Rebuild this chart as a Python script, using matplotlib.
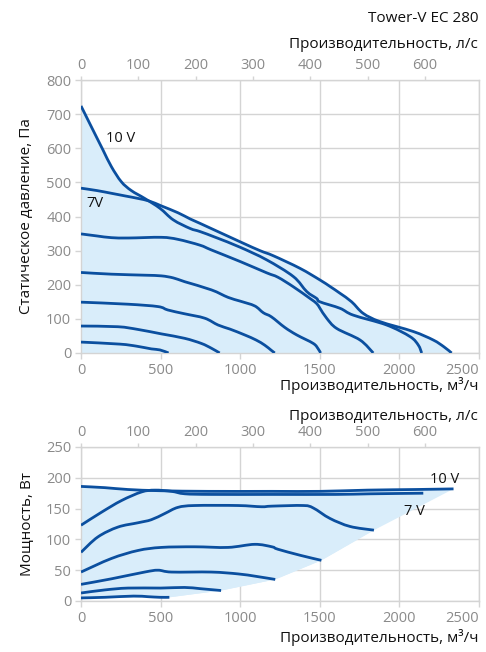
import matplotlib
matplotlib.use("Agg")
import matplotlib.pyplot as plt
from matplotlib.path import Path
from matplotlib.patches import PathPatch
import numpy as np

# ---------------- data: static pressure (Pa) vs airflow (m3/h) ----------------
p_a_x = [0, 65, 138, 191, 253, 316, 400, 496, 580, 685, 747, 850, 999, 1166, 1334, 1418, 1480, 1501, 1627, 1710, 1920, 2067, 2119, 2140]
p_a_y = [724, 663, 595, 546, 502, 476, 453, 424, 390, 365, 356, 338, 310, 273, 224, 180, 160, 150, 131, 111, 82, 48, 23, 0]
p_b_x = [0, 100, 191, 280, 358, 430, 505, 609, 685, 747, 999, 1124, 1208, 1376, 1501, 1564, 1627, 1700, 1773, 1878, 2087, 2213, 2280, 2328]
p_b_y = [483, 476, 468, 460, 453, 445, 431, 411, 393, 380, 326, 300, 285, 248, 214, 195, 175, 150, 116, 92, 63, 38, 18, 0]
p_c_x = [0, 100, 191, 300, 505, 609, 747, 819, 1000, 1166, 1237, 1334, 1438, 1480, 1501, 1543, 1606, 1753, 1836]
p_c_y = [349, 343, 338, 337, 339, 333, 316, 302, 268, 235, 222, 194, 160, 145, 131, 102, 72, 38, 0]
p_d_x = [0, 191, 400, 505, 580, 651, 819, 924, 1000, 1091, 1145, 1196, 1280, 1355, 1459, 1490, 1505]
p_d_y = [236, 231, 228, 226, 220, 209, 185, 163, 152, 138, 118, 106, 75, 53, 28, 12, 0]
p_e_x = [0, 295, 484, 546, 650, 777, 861, 936, 1028, 1100, 1154, 1195, 1217]
p_e_y = [149, 143, 136, 126, 115, 102, 82, 70, 53, 38, 23, 8, 0]
p_f_x = [0, 232, 358, 505, 651, 756, 819, 871]
p_f_y = [79, 77, 69, 56, 43, 28, 14, 0]
p_g_x = [0, 245, 349, 442, 496, 550]
p_g_y = [32, 26, 20, 12, 9, 0]

# ---------------- data: power (W) vs airflow (m3/h) ----------------
w_10_x = [0, 150, 295, 500, 800, 1200, 1500, 1800, 2100, 2340]
w_10_y = [186, 184, 181, 179, 178, 178, 178, 180, 181, 182]
w_7_x = [0, 128, 254, 380, 464, 569, 653, 820, 1200, 1600, 1815, 2150]
w_7_y = [123, 144, 163, 177, 180, 178, 174, 173, 173, 173, 174, 175]
w_3_x = [0, 106, 232, 358, 442, 526, 609, 714, 986, 1133, 1199, 1397, 1459, 1564, 1690, 1840]
w_3_y = [79, 104, 120, 127, 132, 142, 152, 155, 155, 153, 154, 155, 151, 134, 121, 115]
w_4_x = [0, 191, 358, 505, 714, 924, 1091, 1199, 1237, 1380, 1510]
w_4_y = [47, 69, 82, 87, 88, 87, 92, 88, 84, 74, 66]
w_5_x = [0, 191, 400, 484, 569, 819, 986, 1100, 1220]
w_5_y = [27, 36, 47, 50, 47, 47, 44, 40, 35]
w_6_x = [0, 150, 295, 500, 650, 750, 880]
w_6_y = [13, 18, 21, 21, 22, 20, 17]
w_7b_x = [0, 150, 330, 420, 495, 555]
w_7b_y = [5, 6, 8, 7, 6, 6]

x_ticks = [0, 500, 1000, 1500, 2000, 2500]
ls_ticks = [0, 100, 200, 300, 400, 500, 600]
p_ticks = [0, 100, 200, 300, 400, 500, 600, 700, 800]
w_ticks = [0, 50, 100, 150, 200, 250]

title = "Tower-V EC 280"
xlabel_ls = "Производительность, л/с"
xlabel_m3 = "Производительность, м³/ч"
ylabel_p = "Статическое давление, Па"
ylabel_w = "Мощность, Вт"

# ---------------- style ----------------
plt.rcParams['font.family'] = ['Open Sans', 'DejaVu Sans']
LINE = '#0b4f9f'
FILL = '#d9edfa'
GRID = '#d4d4d4'
TICK = '#8a8a8a'
LW = 2.0

fig = plt.figure(figsize=(4.86, 6.52), dpi=100)
W_, H_ = 486.0, 652.0
ax1 = fig.add_axes([81 / W_, 1 - 353 / H_, 398 / W_, 273 / H_])
ax2 = fig.add_axes([81 / W_, 1 - 601 / H_, 398 / W_, 154 / H_])


def smooth_path_parts(xs, ys):
    """Smoothed (Excel-like) rendering of a series: Bezier segments through every point."""
    P = np.column_stack([xs, ys]).astype(float)
    n = len(P)
    verts = [P[0]]
    codes = [Path.MOVETO]
    for i in range(n - 1):
        p0 = P[i - 1] if i > 0 else P[i]
        p1, p2 = P[i], P[i + 1]
        p3 = P[i + 2] if i + 2 < n else P[i + 1]
        c1 = p1 + (p2 - p0) / 6.0
        c2 = p2 - (p3 - p1) / 6.0
        verts += [c1, c2, p2]
        codes += [Path.CURVE4] * 3
    return verts, codes


def smooth_line(ax, xs, ys):
    v, c = smooth_path_parts(xs, ys)
    ax.add_patch(PathPatch(Path(v, c), fill=False, edgecolor=LINE, lw=LW, zorder=3,
                           capstyle='butt', joinstyle='round'))


def smooth_fill(ax, xs, ys, tail_x, tail_y):
    v, c = smooth_path_parts(xs, ys)
    for tx, ty in zip(tail_x, tail_y):
        v.append([tx, ty])
        c.append(Path.LINETO)
    v.append(v[0])
    c.append(Path.CLOSEPOLY)
    ax.add_patch(PathPatch(Path(v, c), facecolor=FILL, edgecolor='none', lw=0, zorder=1))


def style(ax, yt, ymax):
    ax.set_xlim(0, 2500)
    ax.set_ylim(0, ymax)
    ax.set_xticks(x_ticks)
    ax.set_yticks(yt)
    ax.grid(True, color=GRID, lw=1.0)
    ax.set_axisbelow(True)
    for s in ax.spines.values():
        s.set_color(GRID)
        s.set_linewidth(1.0)
    ax.tick_params(colors=GRID, labelcolor=TICK, labelsize=10.5, length=4, width=1, pad=3)
    sec = ax.secondary_xaxis('top', functions=(lambda v: np.asarray(v) / 3.6, lambda v: np.asarray(v) * 3.6))
    sec.set_xticks(ls_ticks)
    sec.tick_params(colors=GRID, labelcolor=TICK, labelsize=10.5, length=3, width=1, pad=2)
    sec.spines['top'].set_visible(False)
    return sec


sec1 = style(ax1, p_ticks, 800)
sec2 = style(ax2, w_ticks, 250)

# ---- pressure chart ----
press = [(p_a_x, p_a_y), (p_b_x, p_b_y), (p_c_x, p_c_y), (p_d_x, p_d_y),
         (p_e_x, p_e_y), (p_f_x, p_f_y), (p_g_x, p_g_y)]
for xs, ys in press:
    smooth_fill(ax1, xs, ys, [0], [0])
for xs, ys in press:
    smooth_line(ax1, xs, ys)
ax1.text(251, 630, "10 V", fontsize=10.5, ha='center', va='center', color='#111111', zorder=4)
ax1.text(86, 437, "7V", fontsize=10.5, ha='center', va='center', color='#111111', zorder=4)

# ---- power chart ----
power = [(w_10_x, w_10_y), (w_7_x, w_7_y), (w_3_x, w_3_y), (w_4_x, w_4_y),
         (w_5_x, w_5_y), (w_6_x, w_6_y), (w_7b_x, w_7b_y)]
ends = [(xs[-1], ys[-1]) for xs, ys in power[2:]]  # lower boundary through end points (upper to lower)
tail_x = [e[0] for e in ends] + [0]
tail_y = [e[1] for e in ends] + [w_7b_y[0]]
smooth_fill(ax2, w_10_x, w_10_y, tail_x, tail_y)
smooth_fill(ax2, w_7_x, w_7_y, tail_x, tail_y)
for xs, ys in power:
    smooth_line(ax2, xs, ys)
ax2.text(2286, 198, "10 V", fontsize=10.5, ha='center', va='center', color='#111111', zorder=4)
ax2.text(2092, 145, "7 V", fontsize=10.5, ha='center', va='center', color='#111111', zorder=4)

# make the last bottom tick label (2500) end at the axis edge, as in the reference
fig.canvas.draw()
for ax in (ax1, ax2):
    labs = ax.get_xticklabels()
    labs[-1].set_horizontalalignment('right')
    ax.set_xticks(x_ticks)
    ax.set_xticklabels([str(t) for t in x_ticks])
    ax.get_xticklabels()[-1].set_horizontalalignment('right')

# ---- texts ----
fig.text(478 / W_, 1 - 18 / H_, title, ha='right', va='center', fontsize=11, color='#111111')
fig.text(478 / W_, 1 - 44 / H_, xlabel_ls, ha='right', va='center', fontsize=11, color='#111111')
fig.text(478 / W_, 1 - 386 / H_, xlabel_m3, ha='right', va='center', fontsize=11, color='#111111')
fig.text(478 / W_, 1 - 417 / H_, xlabel_ls, ha='right', va='center', fontsize=11, color='#111111')
fig.text(478 / W_, 1 - 637 / H_, xlabel_m3, ha='right', va='center', fontsize=11, color='#111111')
fig.text(27 / W_, 1 - 216 / H_, ylabel_p, rotation=90, ha='center', va='center', fontsize=11, color='#111111')
fig.text(27 / W_, 1 - 524 / H_, ylabel_w, rotation=90, ha='center', va='center', fontsize=11, color='#111111')

fig.savefig("out.png", dpi=100)
